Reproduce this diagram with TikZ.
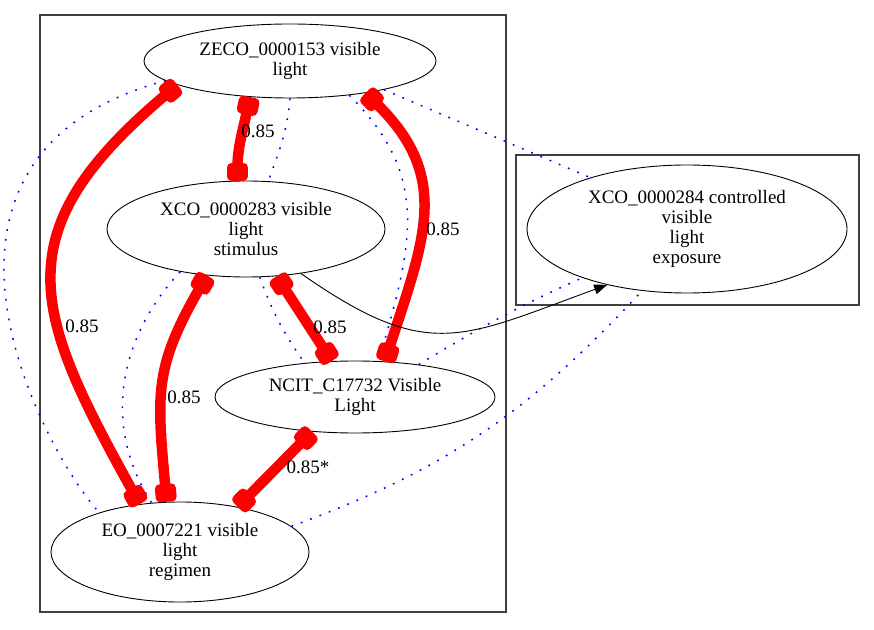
\documentclass[tikz,border=0pt]{standalone}
\usepackage{fontspec}
\setmainfont{Liberation Serif}
\usetikzlibrary{shapes.geometric,arrows.meta}
\newcommand{\wt}[4]{\node[wlabel] (#1) at (#2,#3) {#4};}
\newcommand{\mkbox}[4]{% #1: x1, #2: y1, #3: x2, #4: y2
	\draw[black!75,line width=1.2pt] (#1,#2) rectangle (#3,#4);
}

\begin{document}
\begin{tikzpicture}[x=1pt,y=1pt,
		term/.style={draw,ellipse,inner sep=0pt,align=center,line width=0.9pt,
			font=\fontsize{19}{20}\selectfont},
		wlabel/.style={inner sep=0pt,font=\fontsize{19}{20}\selectfont},
		simedge/.style={red,line width=10.5pt,
			{Square[round,length=18pt,width=21pt]}-{Square[round,length=18pt,width=21pt]}},
		isa/.style={black,line width=0.9pt,-{Triangle[length=13pt,width=10pt]}},
		xref/.style={blue,line width=1.5pt,dash pattern=on 1.8pt off 8.2pt}]
	\useasboundingbox (0,0) rectangle (874,629);
	
	% Clusters
	\mkbox{40}{17}{506}{614}
	\mkbox{516}{324}{859}{474}
	
	% Terms
	\node[term,minimum width=292pt,minimum height=74pt] (zeco) at (290,568) {ZECO\_0000153 visible\\light};
	\node[term,minimum width=278pt,minimum height=96pt] (xco283) at (246,400) {XCO\_0000283 visible\\light\\stimulus};
	\node[term,minimum width=280pt,minimum height=72pt] (ncit) at (355,232) {NCIT\_C17732 Visible\\Light};
	\node[term,minimum width=258pt,minimum height=100pt] (eo) at (180,77) {EO\_0007221 visible\\light\\regimen};
	\node[term,minimum width=320pt,minimum height=128pt] (xco284) at (687,400) {XCO\_0000284 controlled\\visible\\light\\exposure};
	
	% Dotted cross links
	\draw[xref] (zeco.189) .. controls +(195:288) and +(132:88) .. (eo.154);
	\draw[xref] (zeco.270) to[out=265,in=70] (xco283.65);
	\draw[xref] (zeco.330) .. controls +(315:110) and +(73:130) .. (ncit.57);
	\draw[xref] (zeco.343) -- (xco284.152);
	\draw[xref] (xco283.213) to[out=227,in=123] (eo.120);
	\draw[xref] (xco283.286) to[out=290,in=125] (ncit.146);
	\draw[xref] (ncit.27) to[out=31,in=204] (xco284.205);
	\draw[xref] (eo.13) to[out=20,in=227] (xco284.234);
	
	% Similarity links
	\draw[simedge] (zeco.222) to[out=258,in=90] (xco283.100);
	\draw[simedge] (zeco.192) .. controls +(220:230) and +(119:220) .. (eo.130);
	\draw[simedge] (zeco.337) .. controls +(316:120) and +(72:130) .. (ncit.50);
	\draw[simedge] (xco283.303) -- (ncit.123);
	\draw[simedge] (xco283.230) to[out=240,in=95,looseness=1.2] (eo.105);
	\draw[simedge] (ncit.219) -- (eo.38);
	
	% Subclass arrow
	\draw[isa] (xco283.321) to[out=-35,in=200,looseness=1.3] (xco284.215);
	
	% Weights
	\wt{w1}{258}{498}{0.85}
	\wt{w2}{443}{400}{0.85}
	\wt{w3}{82}{303}{0.85}
	\wt{w4}{330}{302}{0.85}
	\wt{w5}{184}{232}{0.85}
	\wt{w6}{308}{162}{0.85*}
\end{tikzpicture}
\end{document}
